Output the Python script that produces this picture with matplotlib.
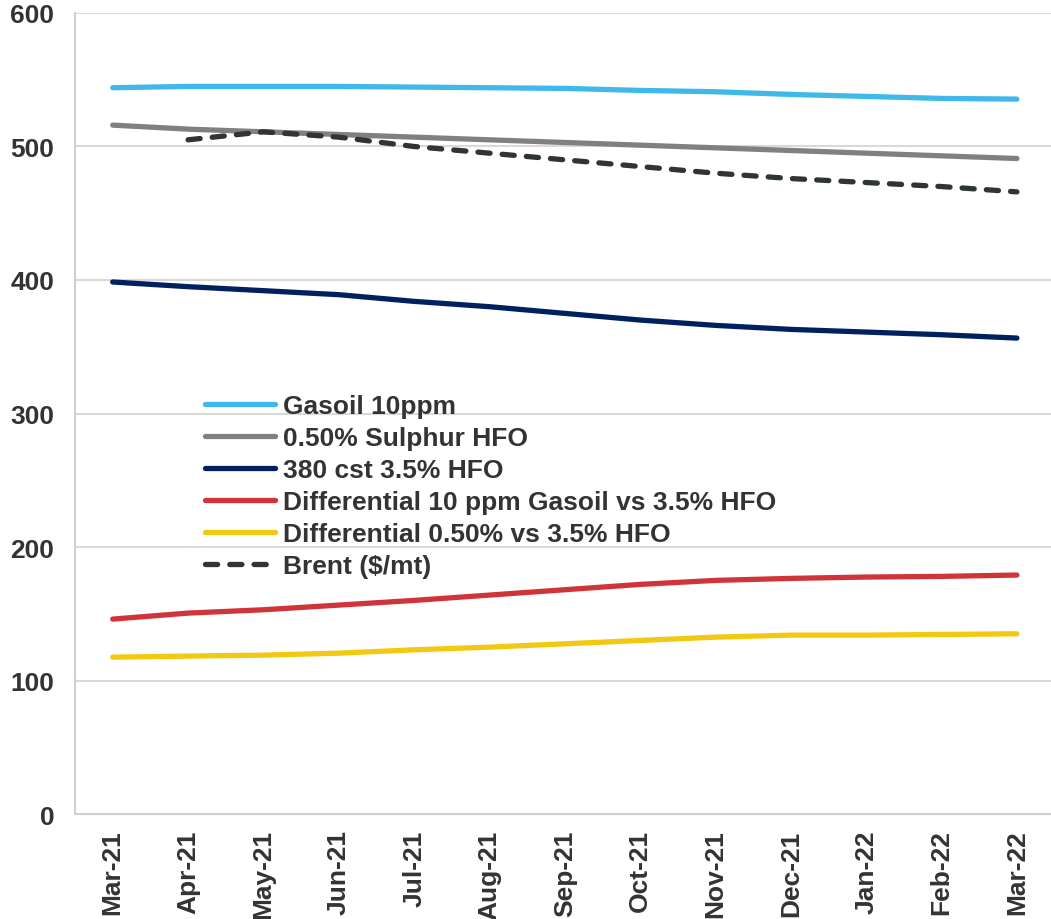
import numpy as np
import matplotlib
matplotlib.use("Agg")
import matplotlib.pyplot as plt

plt.rcParams['font.family'] = ['Liberation Sans', 'DejaVu Sans']
plt.rcParams['font.weight'] = 'bold'

months = ["Mar-21", "Apr-21", "May-21", "Jun-21", "Jul-21", "Aug-21", "Sep-21",
          "Oct-21", "Nov-21", "Dec-21", "Jan-22", "Feb-22", "Mar-22"]

gasoil = [544, 545, 545, 545, 544.5, 544, 543.5, 542, 541, 539, 537.5, 536, 535.5]
sulphur_050 = [516, 513, 511, 509, 507, 505, 503, 501, 499, 497, 495, 493, 491]
hfo_380 = [398.5, 395, 392, 389, 384, 380, 375, 370, 366, 363, 361, 359, 356.5]
diff_gasoil = [146, 150.5, 153, 156.5, 160, 164, 168, 172, 175, 176.5, 177.5, 178, 179]
diff_050 = [117.5, 118.3, 119, 120.5, 123, 125, 127.5, 130, 132.5, 134, 134, 134.5, 135]
brent = [np.nan, 505, 511, 507, 500, 495, 490, 485, 480, 476, 473, 470, 466]

x = np.arange(len(months))

fig = plt.figure(figsize=(10.51, 9.2), dpi=100)
ax = fig.add_axes([0.0714, 0.1141, 0.932, 0.8707])

lw = 3.8
ax.plot(x, gasoil, color='#41B8EA', lw=lw, solid_capstyle='round', label='Gasoil 10ppm')
ax.plot(x, sulphur_050, color='#808080', lw=lw, solid_capstyle='round', label='0.50% Sulphur HFO')
ax.plot(x, hfo_380, color='#002060', lw=lw, solid_capstyle='round', label='380 cst 3.5% HFO')
ax.plot(x, diff_gasoil, color='#D13438', lw=lw, solid_capstyle='round',
        label='Differential 10 ppm Gasoil vs 3.5% HFO')
ax.plot(x, diff_050, color='#F2C811', lw=lw, solid_capstyle='round',
        label='Differential 0.50% vs 3.5% HFO')
ax.plot(x, brent, color='#2F3437', lw=lw, ls=(0, (2.3, 2.3)), dash_capstyle='round',
        label='Brent ($/mt)')

ax.set_xlim(-0.5, len(months) - 0.5)
ax.set_ylim(0, 600)
ax.set_yticks(range(0, 601, 100))
ax.set_xticks(x)
ax.set_xticklabels(months, rotation=90)

ax.yaxis.grid(True, color='#D9D9D9', lw=1.5)
ax.set_axisbelow(True)
for s in ['top', 'right']:
    ax.spines[s].set_visible(False)
for s in ['left', 'bottom']:
    ax.spines[s].set_color('#D0D0D0')
    ax.spines[s].set_linewidth(1.5)

ax.tick_params(axis='both', length=0, labelsize=19, labelcolor='#333333')
ax.tick_params(axis='y', pad=15)
ax.tick_params(axis='x', pad=11)

leg = ax.legend(loc='upper left', bbox_to_anchor=(0.133, 0.524), frameon=False,
                fontsize=19, handlelength=2.65, handletextpad=0.3, labelspacing=0.3,
                borderaxespad=0, borderpad=0)
for t in leg.get_texts():
    t.set_color('#333333')

fig.savefig('out.png', dpi=100)
